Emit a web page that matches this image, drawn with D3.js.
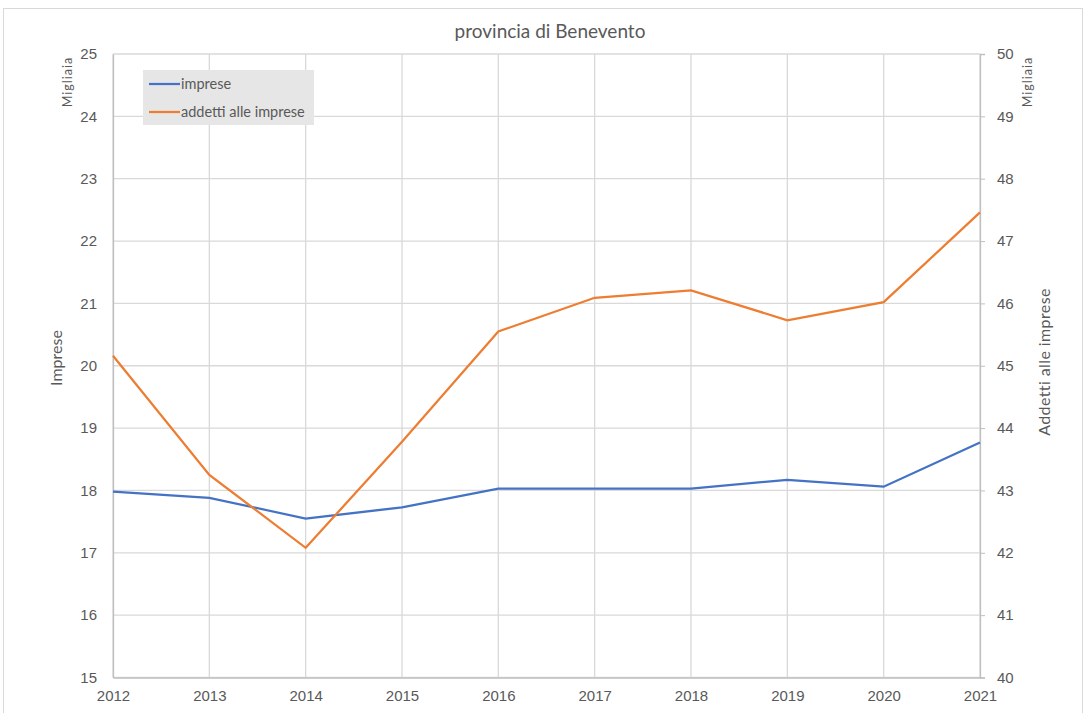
<!DOCTYPE html>
<html>
<head>
<meta charset="utf-8">
<script src="https://cdn.jsdelivr.net/npm/d3@7"></script>
<style>
  body { margin: 0; background: #fff; }
  svg { display: block; font-family: Lato, "Open Sans", sans-serif; }
</style>
</head>
<body>
<div id="vis"></div>
<script>
// chart data
const years = [2012, 2013, 2014, 2015, 2016, 2017, 2018, 2019, 2020, 2021];
const imprese = [17.98, 17.88, 17.55, 17.73, 18.03, 18.03, 18.03, 18.17, 18.06, 18.77];
const addetti = [45.16, 43.25, 42.08, 43.78, 45.55, 46.09, 46.21, 45.73, 46.02, 47.46];
const leftTicks = [15, 16, 17, 18, 19, 20, 21, 22, 23, 24, 25];
const rightTicks = [40, 41, 42, 43, 44, 45, 46, 47, 48, 49, 50];

const W = 1086, H = 713;
const margin = { top: 54, right: 106, bottom: 35.5, left: 113 };
const width = W - margin.left - margin.right;
const height = H - margin.top - margin.bottom;

const svg = d3.select("#vis").append("svg")
  .attr("width", W)
  .attr("height", H);

// outer chart frame
svg.append("rect")
  .attr("x", 3.5).attr("y", 8.5)
  .attr("width", 1079).attr("height", 720)
  .attr("fill", "none")
  .attr("stroke", "#d9d9d9");

const g = svg.append("g")
  .attr("transform", `translate(${margin.left},${margin.top})`);

// scales
const x = d3.scaleLinear().domain([2012, 2021]).range([0, width]);
const yL = d3.scaleLinear().domain([15, 25]).range([height, 0]);
const yR = d3.scaleLinear().domain([40, 50]).range([height, 0]);

// gridlines
g.append("g")
  .selectAll("line")
  .data(leftTicks)
  .join("line")
  .attr("x1", 0).attr("x2", width)
  .attr("y1", d => yL(d)).attr("y2", d => yL(d))
  .attr("stroke", "#d9d9d9")
  .attr("stroke-width", 1.3);

g.append("g")
  .selectAll("line")
  .data(years)
  .join("line")
  .attr("x1", d => x(d)).attr("x2", d => x(d))
  .attr("y1", 0).attr("y2", height)
  .attr("stroke", "#d9d9d9")
  .attr("stroke-width", 1.3);

// left axis
const axL = g.append("g")
  .call(d3.axisLeft(yL).tickValues(leftTicks).tickSize(0).tickPadding(16));
axL.select(".domain").attr("stroke", "#bfbfbf").attr("stroke-width", 1.3);
axL.selectAll("text").attr("fill", "#595959").style("font-size", "15px");

// right axis
const axR = g.append("g")
  .attr("transform", `translate(${width},0)`)
  .call(d3.axisRight(yR).tickValues(rightTicks).tickSize(5).tickPadding(12));
axR.select(".domain").attr("stroke", "#bfbfbf").attr("stroke-width", 1.3);
axR.selectAll(".tick line").attr("stroke", "#bfbfbf");
axR.selectAll("text").attr("fill", "#595959").style("font-size", "15px");

// bottom axis
const axB = g.append("g")
  .attr("transform", `translate(0,${height})`)
  .call(d3.axisBottom(x).tickValues(years).tickFormat(d3.format("d")).tickSize(0).tickPadding(13));
axB.select(".domain").attr("stroke", "#bfbfbf").attr("stroke-width", 1.3);
axB.selectAll("text").attr("fill", "#595959").style("font-size", "15px");

// lines
const lineL = d3.line().x((d, i) => x(years[i])).y(d => yL(d));
const lineR = d3.line().x((d, i) => x(years[i])).y(d => yR(d));

g.append("path")
  .datum(imprese)
  .attr("d", lineL)
  .attr("fill", "none")
  .attr("stroke", "#4472c4")
  .attr("stroke-width", 2.25);

g.append("path")
  .datum(addetti)
  .attr("d", lineR)
  .attr("fill", "none")
  .attr("stroke", "#ed7d31")
  .attr("stroke-width", 2.25);

// title
svg.append("text")
  .attr("x", 550).attr("y", 38)
  .attr("text-anchor", "middle")
  .attr("fill", "#595959")
  .style("font-size", "19px")
  .text("provincia di Benevento");

// axis titles
svg.append("text")
  .attr("transform", "translate(62,358) rotate(-90)")
  .attr("text-anchor", "middle")
  .attr("fill", "#595959")
  .style("font-size", "16px")
  .text("Imprese");

svg.append("text")
  .attr("transform", "translate(1050,362) rotate(-90)")
  .attr("text-anchor", "middle")
  .attr("fill", "#595959")
  .style("font-size", "16px")
  .style("letter-spacing", "0.4px")
  .text("Addetti alle imprese");

// "Migliaia" unit labels
svg.append("text")
  .attr("transform", "translate(72,82) rotate(-90)")
  .attr("text-anchor", "middle")
  .attr("fill", "#595959")
  .style("font-size", "12.5px")
  .style("letter-spacing", "1px")
  .text("Migliaia");

svg.append("text")
  .attr("transform", "translate(1032,82) rotate(-90)")
  .attr("text-anchor", "middle")
  .attr("fill", "#595959")
  .style("font-size", "12.5px")
  .style("letter-spacing", "1px")
  .text("Migliaia");

// legend
const legendItems = [
  { name: "imprese", color: "#4472c4" },
  { name: "addetti alle imprese", color: "#ed7d31" }
];
const legend = svg.append("g").attr("transform", "translate(143,70)");
legend.append("rect")
  .attr("width", 171).attr("height", 55)
  .attr("fill", "#e7e6e6");
const li = legend.selectAll(".item")
  .data(legendItems)
  .join("g")
  .attr("class", "item")
  .attr("transform", (d, i) => `translate(0,${14 + i * 28})`);
li.append("line")
  .attr("x1", 6).attr("x2", 37)
  .attr("stroke", d => d.color)
  .attr("stroke-width", 2.25);
li.append("text")
  .attr("x", 38).attr("y", 5)
  .attr("fill", "#595959")
  .style("font-size", "14.5px")
  .text(d => d.name);
</script>
</body>
</html>
